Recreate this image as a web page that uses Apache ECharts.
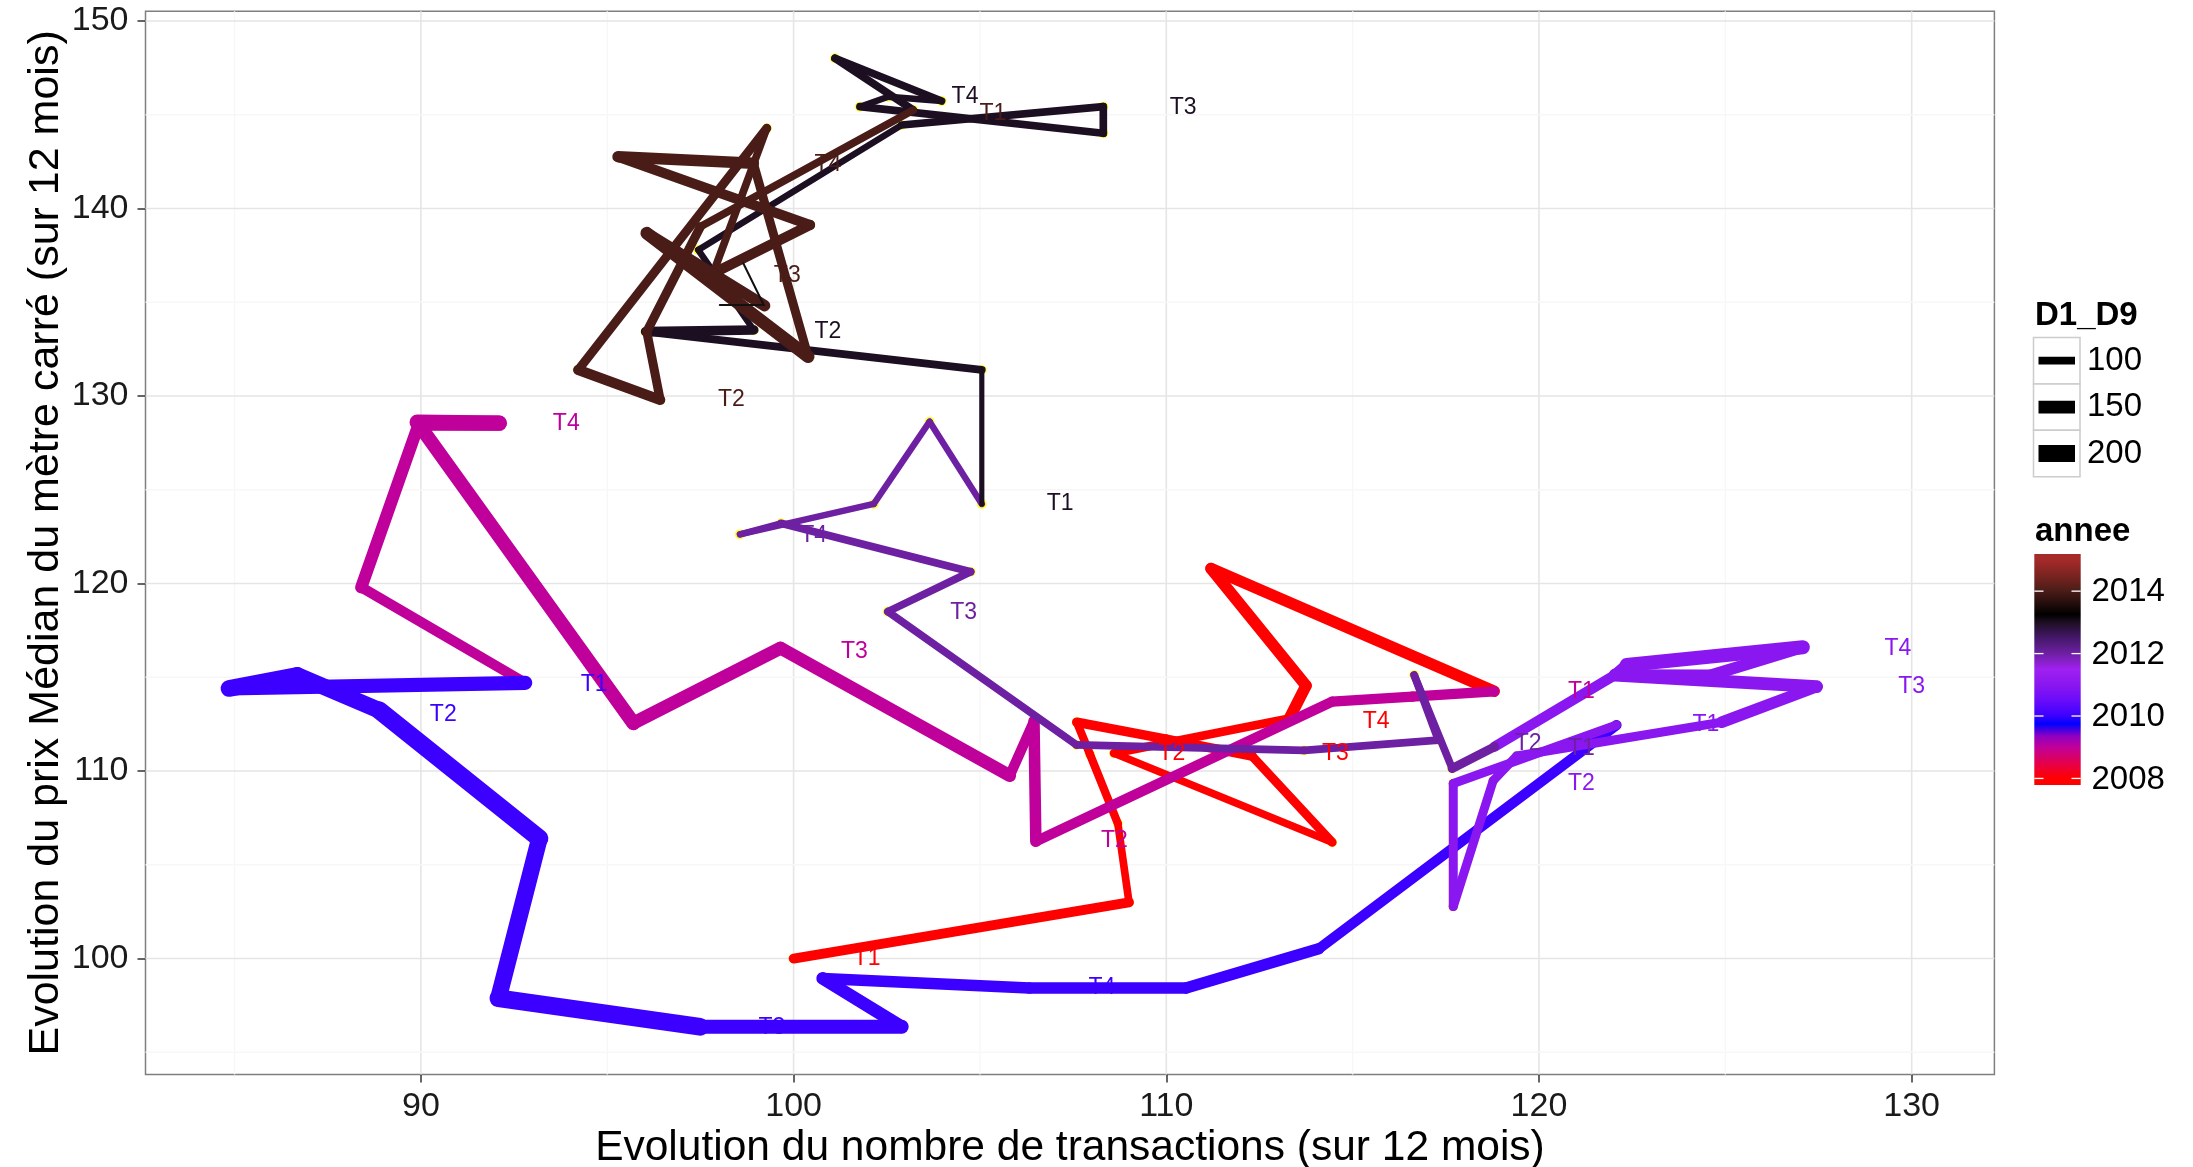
<!DOCTYPE html>
<html><head><meta charset="utf-8">
<script src="https://cdn.jsdelivr.net/npm/echarts@6/dist/echarts.min.js"></script>
<style>html,body{margin:0;padding:0;background:#fff}#c{width:2193px;height:1167px}</style>
</head><body><div id="c"></div>
<script>
// Monthly points [x = evolution nombre de transactions, y = evolution prix median, D1_D9], one array per annee
const p2008 = [[100.0,100.0,120],[109.0,103.0,100],[108.7,107.2,105],[107.95,110.9,105],[107.6,112.6,118],[110.0,111.7,118],[112.3,110.8,112],[114.45,106.2,100],[108.6,110.95,110],[113.3,112.8,137],[113.75,114.55,137],[111.2,120.8,137]];
const p2009 = [[118.8,114.25,124],[116.6,113.97,124],[114.45,113.7,124],[106.5,106.25,137],[106.45,112.65,124],[105.8,109.75,150],[99.65,116.55,155],[95.7,112.55,164],[89.9,128.6,179],[92.1,128.55,179],[89.95,128.55,145],[88.4,119.8,124]];
const p2010 = [[92.8,114.7,164],[84.85,114.4,195],[86.68,115.1,195],[88.87,113.25,210],[93.18,106.4,195],[92.08,97.88,210],[97.49,96.36,164],[102.9,96.36,150],[100.78,98.94,137],[106.32,98.43,137],[110.53,98.43,137],[114.09,100.52,124]];
const p2011 = [[122.08,112.45,112],[117.7,109.34,112],[117.7,102.77,112],[118.77,109.48,112],[119.4,110.8,112],[124.9,112.6,137],[127.45,114.5,150],[122.04,115.12,137],[122.35,115.65,164],[127.08,116.6,137],[124.6,115.1,137],[122.04,115.12,124]];
const p2012 = [[118.81,111.3,112],[117.67,110.14,100],[116.65,115.12,100],[117.3,111.65,100],[113.7,111.1,100],[107.59,111.39,100],[102.53,118.5,100],[104.75,120.63,100],[99.66,123.21,89],[98.56,122.62,89],[102.15,124.24,89],[103.65,128.63,89]];
const p2013 = [[105.05,124.24,79],[105.05,131.39,100],[96.03,133.43,118],[98.93,133.52,89],[97.44,137.79,89],[102.9,144.45,100],[108.31,145.43,100],[108.31,144.01,100],[101.78,145.43,89],[102.54,145.96,89],[103.97,145.73,100],[101.11,148.01,100]];
const p2014 = [[103.21,145.25,100],[97.5,139.03,112],[96.06,133.43,112],[96.42,129.79,124],[94.22,131.39,112],[99.28,144.28,100],[97.84,136.54,124],[100.44,139.12,124],[95.29,142.76,137],[98.92,142.41,112],[100.39,132.1,150],[96.06,138.68,137]];
const p2015 = [[99.22,134.82,0]];
// thin dark trace near the 2015 point [x, y]
const thinTrace = [[98.65,137.08],[99.2,134.85],[98.02,134.85]];

// Quarter labels [text, x, y]
const lab2008 = [['T1',101.97,100.0],['T2',110.15,110.9],['T3',114.54,110.9],['T4',115.63,112.61]];
const lab2009 = [['T1',121.14,114.25],['T2',108.61,106.27],['T3',101.63,116.34],['T4',93.90,128.51]];
const lab2010 = [['T1',94.65,114.63],['T2',90.60,112.99],['T3',99.42,96.34],['T4',108.27,98.43]];
const lab2011 = [['T1',124.48,112.45],['T2',121.14,109.34],['T3',130.0,114.5],['T4',129.63,116.54]];
const lab2012 = [['T1',121.14,111.21],['T2',119.71,111.48],['T3',104.56,118.43],['T4',100.54,122.54]];
const lab2013 = [['T1',107.15,124.25],['T2',100.92,133.43],['T3',110.45,145.37],['T4',104.6,145.97]];
const lab2014 = [['T1',105.35,145.07],['T2',98.33,129.78],['T3',99.83,136.42],['T4',100.92,142.31]];

const years = [2008,2009,2010,2011,2012,2013,2014,2015];
const xTicks = [90,100,110,120,130];
const yTicks = [100,110,120,130,140,150];
const xMinor = [85,95,105,115,125];
const yMinor = [95,105,115,125,135,145];
const sizeBreaks = [100,150,200];
const colourBreaks = [2014,2012,2010,2008];
// colour scale stops [annee, colour]
const colourStops = [[2015.19,'#A52A2A'],[2015,'#A52A2A'],[2014.5,'#7A2420'],[2014,'#4A1C18'],[2013.25,'#000000'],[2013,'#1D0F22'],[2012.5,'#45186A'],[2012,'#6E20A2'],[2011.5,'#A020F0'],[2011,'#8A17F0'],[2010.5,'#6A0CFA'],[2010,'#3B00FF'],[2009.75,'#0000FF'],[2009.35,'#9000C0'],[2009,'#C0009A'],[2008.5,'#E4004E'],[2008,'#FF0000'],[2007.79,'#FF0000']];
const yearColour = {2008:'#FF0000',2009:'#C0009A',2010:'#3B00FF',2011:'#8A17F0',2012:'#6E20A2',2013:'#1D0F22',2014:'#4A1C18',2015:'#A52A2A'};

const FONT = '"Liberation Sans", Arial, Helvetica, sans-serif';
const widthOf = d => Math.max(1, 1.28 * (1.77 * Math.sqrt(d) - 11.7));

const allPts = [p2008,p2009,p2010,p2011,p2012,p2013,p2014,p2015];
const path = [];
allPts.forEach((arr, i) => arr.forEach(p => path.push({x:p[0], y:p[1], d:p[2], yr:years[i]})));
const segs = [];
for (let i = 0; i < path.length - 1; i++) {
  segs.push([path[i].x, path[i].y, path[i+1].x, path[i+1].y, widthOf(path[i].d), yearColour[path[i].yr]]);
}
for (let i = 0; i < thinTrace.length - 1; i++) {
  segs.push([thinTrace[i][0], thinTrace[i][1], thinTrace[i+1][0], thinTrace[i+1][1], 2, '#111111']);
}
const allLabs = [lab2008,lab2009,lab2010,lab2011,lab2012,lab2013,lab2014];
const labData = [];
allLabs.forEach((arr, i) => arr.forEach(l => labData.push({value:[l[1], l[2]], txt:l[0], yr:years[i]})));

const gridV = xTicks.map(v => ({value:[v, 120], major:1})).concat(xMinor.map(v => ({value:[v, 120], major:0})));
const gridH = yTicks.map(v => ({value:[100, v], major:1})).concat(yMinor.map(v => ({value:[100, v], major:0})));

const chart = echarts.init(document.getElementById('c'));

// legend graphics
const LX = 2033.5;
const cbTop = 554, cbBot = 785, cbYTop = 2015.19, cbYBot = 2007.79;
const yrToPx = yr => cbTop + (cbYTop - yr) / (cbYTop - cbYBot) * (cbBot - cbTop);
const graphics = [];
graphics.push({type:'text', x:2035, y:316, style:{text:'D1_D9', font:'bold 33px ' + FONT, fill:'#000', verticalAlign:'middle'}});
sizeBreaks.forEach((b, i) => {
  const y0 = 337.5 + i * 46.4;
  graphics.push({type:'rect', shape:{x:LX, y:y0, width:46.5, height:46.4}, style:{fill:'#fff', stroke:'#CCCCCC', lineWidth:1.5}});
  graphics.push({type:'line', shape:{x1:LX + 5, y1:y0 + 23.2, x2:LX + 41.5, y2:y0 + 23.2}, style:{stroke:'#000', lineWidth:widthOf(b)}});
  graphics.push({type:'text', x:2087, y:y0 + 23.5, style:{text:String(b), font:'33px ' + FONT, fill:'#000', verticalAlign:'middle'}});
});
graphics.push({type:'text', x:2035, y:531.5, style:{text:'annee', font:'bold 33px ' + FONT, fill:'#000', verticalAlign:'middle'}});
graphics.push({type:'rect', shape:{x:2034.3, y:cbTop, width:46.4, height:cbBot - cbTop}, style:{fill:new echarts.graphic.LinearGradient(0,0,0,1, colourStops.map(s => ({offset:(cbYTop - s[0]) / (cbYTop - cbYBot), color:s[1]})))}});
colourBreaks.forEach(b => {
  const y = yrToPx(b);
  graphics.push({type:'line', shape:{x1:2034.3, y1:y, x2:2043.5, y2:y}, style:{stroke:'#fff', lineWidth:1.3}});
  graphics.push({type:'line', shape:{x1:2071.5, y1:y, x2:2080.7, y2:y}, style:{stroke:'#fff', lineWidth:1.3}});
  graphics.push({type:'text', x:2091.5, y:y + 1, style:{text:String(b), font:'33px ' + FONT, fill:'#000', verticalAlign:'middle'}});
});

const option = {
  animation:false,
  backgroundColor:'#fff',
  grid:{left:145.5, top:11.2, right:198.6, bottom:92.4, containLabel:false, outerBoundsMode:'none',
    show:true, borderColor:'#7F7F7F', borderWidth:1.5, backgroundColor:'#fff'},
  xAxis:{type:'value', min:82.61, max:132.22,
    axisLine:{show:false}, splitLine:{show:false},
    axisTick:{show:true, length:8, lineStyle:{color:'#333', width:1.5}, customValues:xTicks},
    axisLabel:{customValues:xTicks, fontSize:34, color:'#1a1a1a', margin:15, fontFamily:FONT},
    name:'Evolution du nombre de transactions (sur 12 mois)', nameLocation:'middle', nameGap:52, nameMoveOverlap:false,
    nameTextStyle:{fontSize:42.5, color:'#000', fontFamily:FONT}},
  yAxis:{type:'value', min:93.81, max:150.52,
    axisLine:{show:false}, splitLine:{show:false},
    axisTick:{show:true, length:8, lineStyle:{color:'#333', width:1.5}, customValues:yTicks},
    axisLabel:{customValues:yTicks, fontSize:34, color:'#1a1a1a', margin:17, fontFamily:FONT},
    name:'Evolution du prix Médian du mètre carré (sur 12 mois)', nameLocation:'middle', nameGap:78, nameMoveOverlap:false,
    nameTextStyle:{fontSize:43, color:'#000', fontFamily:FONT}},
  graphic:graphics,
  series:[
    {type:'custom', silent:true, z:1, data:gridV, renderItem:(params, api) => {
      const cs = params.coordSys; const p = api.coord([api.value(0), api.value(1)]);
      const maj = gridV[params.dataIndex].major;
      return {type:'line', shape:{x1:p[0], y1:cs.y, x2:p[0], y2:cs.y + cs.height}, style:{stroke: maj ? '#E5E5E5' : '#F7F7F7', lineWidth: maj ? 1.6 : 1.4}};
    }},
    {type:'custom', silent:true, z:1, data:gridH, renderItem:(params, api) => {
      const cs = params.coordSys; const p = api.coord([api.value(0), api.value(1)]);
      const maj = gridH[params.dataIndex].major;
      return {type:'line', shape:{x1:cs.x, y1:p[1], x2:cs.x + cs.width, y2:p[1]}, style:{stroke: maj ? '#E5E5E5' : '#F7F7F7', lineWidth: maj ? 1.6 : 1.4}};
    }},
    {type:'scatter', silent:true, z:2, symbolSize:10, itemStyle:{color:'#FFFF00'}, data:path.map(p => [p.x, p.y])},
    {type:'custom', silent:true, z:3, data:segs.map(s => s.slice(0, 5)), renderItem:(params, api) => {
      const s = segs[params.dataIndex];
      const a = api.coord([s[0], s[1]]);
      const b = api.coord([s[2], s[3]]);
      return {type:'line', shape:{x1:a[0], y1:a[1], x2:b[0], y2:b[1]},
        style:{stroke:s[5], lineWidth:s[4], lineCap:'round'}};
    }},
    {type:'custom', silent:true, z:4, data:labData, renderItem:(params, api) => {
      const p = api.coord([api.value(0), api.value(1)]);
      const it = labData[params.dataIndex];
      return {type:'text', x:p[0], y:p[1], style:{text:it.txt, fill:yearColour[it.yr], font:'23px ' + FONT, align:'center', verticalAlign:'middle'}};
    }}
  ]
};
chart.setOption(option);
</script></body></html>
